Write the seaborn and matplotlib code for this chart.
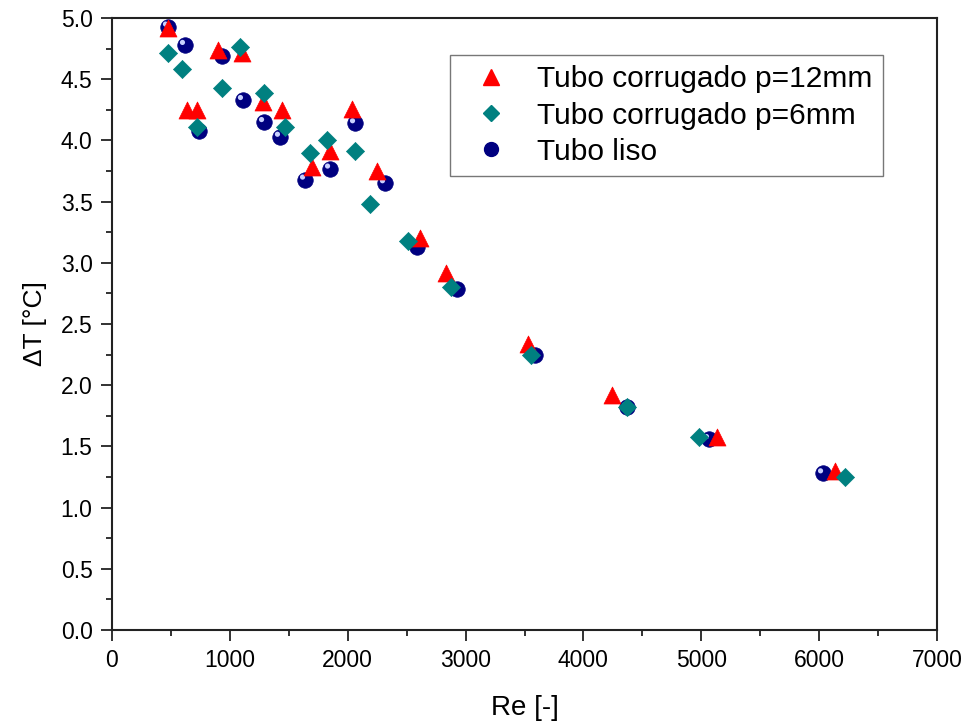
import matplotlib
matplotlib.use("Agg")
import matplotlib.pyplot as plt
import matplotlib.transforms as mtransforms
from matplotlib.lines import Line2D
from matplotlib.ticker import MultipleLocator, FormatStrFormatter
import seaborn as sns
import pandas as pd

# --- data ---
re_p12 = [475, 636, 721, 899, 1103, 1281, 1442, 1697, 1850, 2036, 2248, 2613, 2834, 3530, 4242, 5133, 6134]
dt_p12 = [4.92, 4.25, 4.25, 4.74, 4.71, 4.31, 4.25, 3.78, 3.91, 4.26, 3.75, 3.20, 2.92, 2.34, 1.92, 1.58, 1.30]

re_p6 = [475, 594, 721, 933, 1086, 1290, 1468, 1680, 1824, 2062, 2189, 2511, 2876, 3555, 4370, 4980, 6219]
dt_p6 = [4.71, 4.58, 4.11, 4.43, 4.76, 4.39, 4.11, 3.90, 4.00, 3.91, 3.48, 3.18, 2.80, 2.25, 1.82, 1.58, 1.25]

re_liso = [475, 619, 933, 738, 1111, 1290, 1425, 1638, 1850, 2062, 2316, 2588, 2927, 3589, 4370, 5065, 6033]
dt_liso = [4.93, 4.78, 4.69, 4.08, 4.33, 4.15, 4.03, 3.68, 3.77, 4.14, 3.65, 3.13, 2.79, 2.25, 1.82, 1.56, 1.28]

labels = ["Tubo corrugado p=12mm", "Tubo corrugado p=6mm", "Tubo liso"]
x_label = "Re [-]"
y_label = "ΔT [°C]"

df_p12 = pd.DataFrame({"Re": re_p12, "dT": dt_p12})
df_p6 = pd.DataFrame({"Re": re_p6, "dT": dt_p6})
df_liso = pd.DataFrame({"Re": re_liso, "dT": dt_liso})

sns.set_style("white")
plt.rcParams["font.family"] = ["Liberation Sans", "DejaVu Sans"]
plt.rcParams["text.color"] = "black"
plt.rcParams["axes.labelcolor"] = "black"
plt.rcParams["xtick.color"] = "black"
plt.rcParams["ytick.color"] = "black"

fig = plt.figure(figsize=(9.68, 7.26), dpi=100)
ax = fig.add_axes([112 / 968, 1 - 630 / 726, (937 - 112) / 968, (630 - 18) / 726])

red = "#FF0000"
teal = "#008080"
navy = "#000080"

# circles (bottom), with a highlight to mimic the shaded sphere
sns.scatterplot(data=df_liso, x="Re", y="dT", ax=ax, marker="o", s=125,
                color=navy, edgecolor=navy, linewidth=0.5, zorder=3, legend=False)
hl = mtransforms.offset_copy(ax.transData, fig=fig, x=-2.5, y=2.5, units="dots")
ax.scatter(df_liso["Re"], df_liso["dT"], s=14, color="#c8d0ff", edgecolor="none",
           transform=hl, zorder=3.5)
sns.scatterplot(data=df_p12, x="Re", y="dT", ax=ax, marker="^", s=150,
                color=red, edgecolor=red, linewidth=0.5, zorder=4, legend=False)
sns.scatterplot(data=df_p6, x="Re", y="dT", ax=ax, marker="D", s=85,
                color=teal, edgecolor=teal, linewidth=0.5, zorder=5, legend=False)

ax.set_xlim(0, 7000)
ax.set_ylim(0, 5.0)
ax.xaxis.set_major_locator(MultipleLocator(1000))
ax.xaxis.set_minor_locator(MultipleLocator(500))
ax.yaxis.set_major_locator(MultipleLocator(0.5))
ax.yaxis.set_minor_locator(MultipleLocator(0.25))
ax.yaxis.set_major_formatter(FormatStrFormatter("%.1f"))

for sp in ax.spines.values():
    sp.set_visible(True)
    sp.set_color("#222222")
    sp.set_linewidth(1.5)

ax.tick_params(which="both", direction="out", bottom=True, left=True, top=False, right=False,
               color="#222222", width=1.3)
ax.tick_params(which="major", length=8, labelsize=16.5, pad=6)
ax.tick_params(which="minor", length=4.5)

ax.set_xlabel(x_label, fontsize=20, labelpad=16)
ax.set_ylabel(y_label, fontsize=19, labelpad=10)

handles = [
    Line2D([], [], linestyle="none", marker="^", markersize=11, color=red),
    Line2D([], [], linestyle="none", marker="D", markersize=8, color=teal),
    Line2D([], [], linestyle="none", marker="o", markersize=10, color=navy),
]
leg = ax.legend(handles, labels, loc="upper left", bbox_to_anchor=(0.41, 0.94),
                fontsize=21.5, frameon=True, fancybox=False, borderpad=0.35,
                handlelength=2.0, handletextpad=0.55, labelspacing=0.28, borderaxespad=0)
leg.get_frame().set_edgecolor("#555555")
leg.get_frame().set_linewidth(1.0)

fig.savefig("out.png", dpi=100)
